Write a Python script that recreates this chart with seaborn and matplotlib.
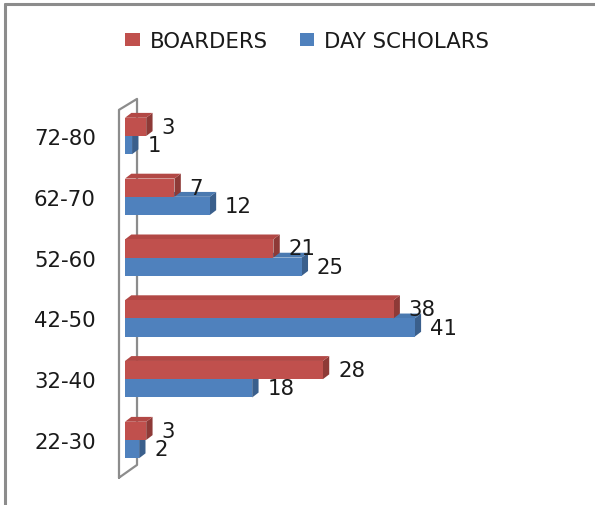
import numpy as np
import pandas as pd
import matplotlib
matplotlib.use('Agg')
import matplotlib.pyplot as plt
import seaborn as sns
from matplotlib.patches import Patch, Polygon
from matplotlib.lines import Line2D


# Данные (сверху вниз)
age_groups = ['72-80', '62-70', '52-60', '42-50', '32-40', '22-30']
boarders = [3, 7, 21, 38, 28, 3]
day_scholars = [1, 12, 25, 41, 18, 2]
series_names = ['BOARDERS', 'DAY SCHOLARS']

# Цвета в духе Excel 2007
colors = {'BOARDERS': '#C0504D', 'DAY SCHOLARS': '#4F81BD'}
side_colors = {'BOARDERS': '#8E3A37', 'DAY SCHOLARS': '#3A5F8C'}
top_colors = {'BOARDERS': '#B24845', 'DAY SCHOLARS': '#4A79B0'}

df = pd.DataFrame({
    'age': age_groups * 2,
    'count': boarders + day_scholars,
    'group': [series_names[0]] * len(age_groups) + [series_names[1]] * len(age_groups),
})

sns.set_theme(style='white')
plt.rcParams['font.family'] = ['DejaVu Sans']
fs = 15.3

fig = plt.figure(figsize=(5.95, 5.06), dpi=100)
ax = fig.add_axes([125 / 595, 19.4 / 506, 424 / 595, 395.2 / 506])

sns.barplot(
    data=df, x='count', y='age', hue='group', orient='h',
    order=age_groups, hue_order=series_names,
    palette=colors, width=0.6, saturation=1, legend=False, ax=ax,
)

ax.set_xlim(0, 60)
ax.set_ylim(5.75, -0.75)

# Псевдо-3D: боковая и верхняя грани у каждого столбца
dx, dy = 0.9, -0.08
for k, (cont, name) in enumerate(zip(ax.containers, series_names)):
    z = 2 if name == 'DAY SCHOLARS' else 6
    for bar in cont:
        x0, y0 = bar.get_x(), bar.get_y()
        w, h = bar.get_width(), bar.get_height()
        x1, y1 = x0 + w, y0 + h
        bar.set_edgecolor('none')
        bar.set_zorder(z + 1)
        side = Polygon([(x1, y0), (x1 + dx, y0 + dy), (x1 + dx, y1 + dy), (x1, y1)],
                       closed=True, facecolor=side_colors[name], edgecolor='none', zorder=z)
        top = Polygon([(x0, y0), (x0 + dx, y0 + dy), (x1 + dx, y0 + dy), (x1, y0)],
                      closed=True, facecolor=top_colors[name], edgecolor='none', zorder=z)
        ax.add_patch(side)
        ax.add_patch(top)
    ax.bar_label(cont, padding=11, fontsize=fs, color='#1a1a1a', zorder=10)

# Стенка диаграммы (контур)
wall_x = [-0.85, -0.85, 1.7, 1.7, -0.85]
wall_y = [5.62, -0.43, -0.61, 5.41, 5.62]
ax.plot(wall_x, wall_y, color='#8c8c8c', linewidth=1.6, zorder=1, clip_on=False)

for s in ax.spines.values():
    s.set_visible(False)
ax.set_xticks([])
ax.set_xlabel('')
ax.set_ylabel('')
ax.tick_params(axis='y', length=0, pad=21, labelsize=fs, labelcolor='#1a1a1a')

handles = [Patch(facecolor=colors[n], edgecolor='none') for n in series_names]
fig.legend(handles, series_names, loc='center', ncol=2, frameon=False,
           bbox_to_anchor=(307 / 595, 1 - 42 / 506), fontsize=fs,
           handlelength=0.7, handleheight=0.6, handletextpad=0.45,
           columnspacing=1.5, labelcolor='#1a1a1a')

# Рамка рисунка (видны левая и верхняя стороны)
fig.add_artist(Line2D([5 / 595, 5 / 595], [0, 1 - 5 / 506], transform=fig.transFigure,
                      color='#8c8c8c', linewidth=2.2))
fig.add_artist(Line2D([5 / 595, 1], [1 - 5 / 506, 1 - 5 / 506], transform=fig.transFigure,
                      color='#8c8c8c', linewidth=2.2))

fig.savefig('out.png', dpi=100)
